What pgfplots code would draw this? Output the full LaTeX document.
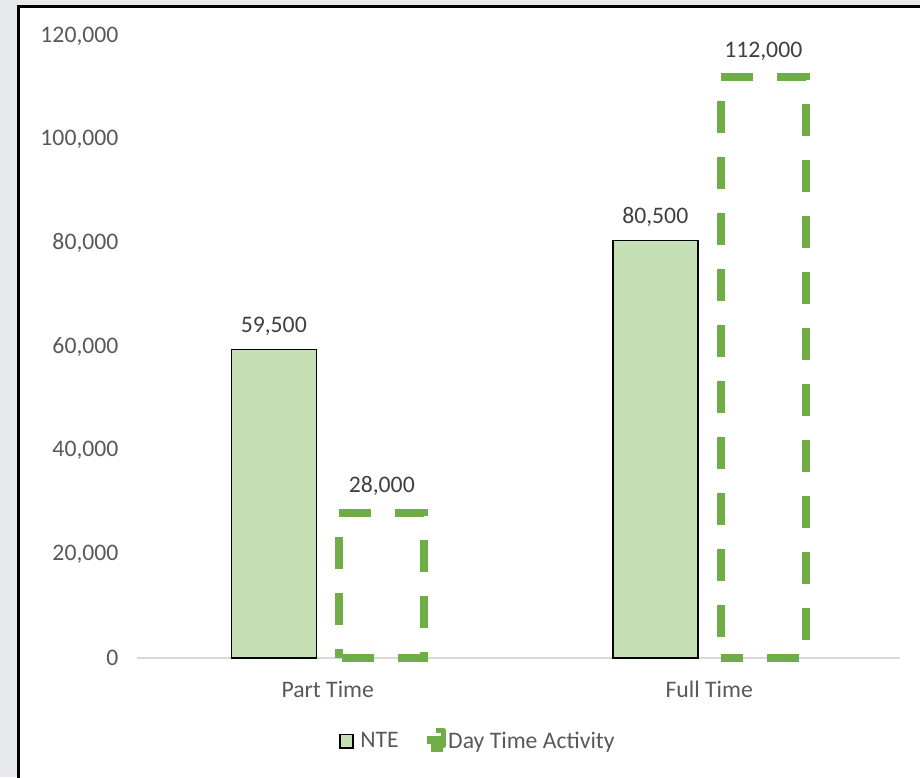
\documentclass[border=0pt]{standalone}
\usepackage{pgfplots}
\pgfplotsset{compat=1.18}
\usepackage{fontspec}
\setmainfont{Carlito}
\definecolor{ntefill}{HTML}{C5E0B4}
\definecolor{dgreen}{HTML}{70AD47}
\definecolor{txt}{HTML}{595959}
\definecolor{lbl}{HTML}{404040}
\definecolor{bg}{HTML}{E8E9ED}
\definecolor{axgray}{HTML}{D9D9D9}
\newcommand\cf{\fontsize{23.7pt}{28pt}\selectfont}
\begin{document}
\begin{tikzpicture}[x=1pt,y=1pt]
\useasboundingbox (0,0) rectangle (920,777);
\fill[bg] (0,0) rectangle (920,777);
\fill[white,draw=black,line width=2.7pt] (18.7,-20) rectangle (940,770.8);
\begin{axis}[
  at={(137pt,119pt)}, anchor=south west,
  scale only axis, width=763pt, height=622pt,
  xmin=-0.5, xmax=1.5, ymin=0, ymax=120000,
  clip=false,
  ybar,
  bar width=85pt,
  axis x line=bottom, axis y line=left,
  x axis line style={-, draw=axgray, line width=1.5pt},
  y axis line style={draw=none},
  major tick length=0pt,
  xtick={0,1}, xticklabels={Part Time, Full Time},
  ytick={0,20000,40000,60000,80000,100000,120000},
  yticklabels={0,{20,000},{40,000},{60,000},{80,000},{100,000},{120,000}},
  scaled y ticks=false,
  tick label style={font=\cf, text=txt},
  yticklabel style={anchor=east, xshift=-15pt},
  xticklabel style={anchor=north, yshift=-20pt},
  point meta=explicit symbolic,
  nodes near coords,
  every node near coord/.append style={font=\cf, text=lbl, yshift=10pt},
  legend style={at={(axis description cs:0.4469,-0.1319)}, anchor=center,
    draw=none, fill=none, font=\cf, text=txt,
    /tikz/every even column/.append style={column sep=26pt}},
  legend columns=2,
]
\addplot[draw=black, line width=1.5pt, fill=ntefill, bar shift=-54pt,
  legend image code/.code={\draw[black, line width=1.5pt, fill=ntefill] (0.75pt,-6.75pt) rectangle (13.5pt,6.5pt); \path[draw=none,fill=none] (0pt,0pt) -- (19pt,0pt);}]
  coordinates {(0,59500) [59{,}500] (1,80500) [80{,}500]};
\addlegendentry{NTE}
\addplot[draw=dgreen, line width=8pt, fill=none, bar shift=54pt, line cap=butt, line join=miter,
  dash pattern=on 32pt off 24pt, dash phase=52.87pt,
  legend image code/.code={\draw[dgreen, line width=5pt, line join=round, solid] (5pt,10.5pt) -- (13pt,10.5pt) -- (13pt,-4.5pt) -- (0pt,-4.5pt); \fill[dgreen] (0pt,-6.5pt) rectangle (8pt,1.5pt);}]
  coordinates {(0,28000) [28{,}000]};
\addlegendentry{Day Time Activity}
\addplot[draw=dgreen, line width=8pt, fill=none, bar shift=54pt, line cap=butt, line join=miter,
  dash pattern=on 32pt off 24pt, dash phase=9.47pt, forget plot]
  coordinates {(1,112000) [112{,}000]};
\end{axis}
\end{tikzpicture}
\end{document}
